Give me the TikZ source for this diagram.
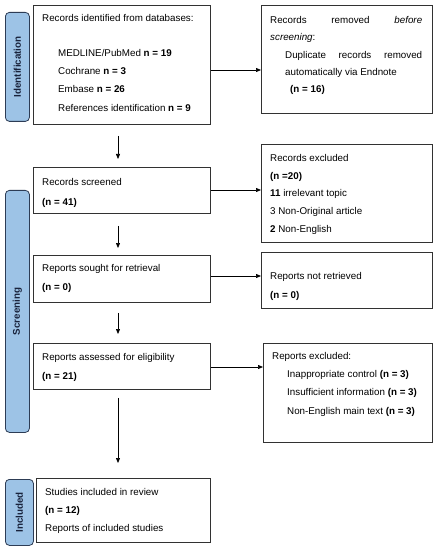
\documentclass[tikz,border=0pt]{standalone}
\usepackage{fontspec}
\setmainfont{Liberation Sans}
\usetikzlibrary{arrows.meta}
\definecolor{boxline}{RGB}{50,50,50}
\definecolor{stageline}{RGB}{45,60,85}
\definecolor{stagefill}{RGB}{157,195,230}
\definecolor{stagetext}{RGB}{25,35,60}
\newcommand\bxtext[3]{\parbox[t]{#1}{\raggedright\fontsize{9.8bp}{#2}\selectfont #3}}
\begin{document}
\begin{tikzpicture}[x=1bp,y=-1bp,
 box/.style={draw=boxline, line width=0.9bp, inner sep=0, anchor=north west},
 stage/.style={draw=stageline, fill=stagefill, rounded corners=4bp, line width=0.8bp, inner sep=0, anchor=north west},
 stagelabel/.style={rotate=90, inner sep=0, font=\fontsize{9.8bp}{12bp}\selectfont\bfseries, text=stagetext},
 txt/.style={anchor=base west, inner sep=0},
 arr/.style={-{Triangle[length=5bp,width=4bp]}, line width=0.7bp}
]
\useasboundingbox (0,0) rectangle (437,550);
\fill[white] (0,0) rectangle (437,550);

% stage bars
\node[stage, minimum width=24bp, minimum height=109bp] (s1) at (5,12) {};
\node[stage, minimum width=24bp, minimum height=242bp] (s2) at (5,190) {};
\node[stage, minimum width=28bp, minimum height=66bp] (s3) at (5,479) {};
\node[stagelabel] (l1) at (s1.center) {Identification};
\node[stagelabel] (l2) at (s2.center) {Screening};
\node[stagelabel] (l3) at (s3.center) {Included};

% main boxes
\node[box, minimum width=177bp, minimum height=119bp] (b1) at (33,5) {};
\node[box, minimum width=171bp, minimum height=108bp] (r1) at (261,5) {};
\node[box, minimum width=177bp, minimum height=46bp] (b2) at (33,167) {};
\node[box, minimum width=171bp, minimum height=98bp] (r2) at (261,144) {};
\node[box, minimum width=177bp, minimum height=47bp] (b3) at (33,255) {};
\node[box, minimum width=171bp, minimum height=56bp] (r3) at (261,252) {};
\node[box, minimum width=177bp, minimum height=46bp] (b4) at (33,343) {};
\node[box, minimum width=169bp, minimum height=99bp] (r4) at (263,343) {};
\node[box, minimum width=174bp, minimum height=64bp] (b5) at (36,478) {};

% texts
\node[txt] (t1) at (42,21.3) {\bxtext{165bp}{18bp}{Records identified from databases:}};
\node[txt] (t1b) at (58,56.3) {\bxtext{150bp}{18.3bp}{MEDLINE/PubMed \textbf{n = 19}\\Cochrane \textbf{n = 3}\\Embase \textbf{n = 26}\\References identification \textbf{n = 9}}};
\node[txt] (tr1) at (270,23.3) {\bxtext{152bp}{17.4bp}{Records\hfill removed\hfill \textit{before}\\\textit{screening}:\\\hspace*{15bp}Duplicate\hfill records\hfill removed\\\hspace*{15bp}automatically via Endnote\\\hspace*{20bp}\textbf{(n = 16)}}};
\node[txt] (t2) at (42,185.3) {\bxtext{160bp}{20bp}{Records screened\\\textbf{(n = 41)}}};
\node[txt] (tr2) at (270,161.3) {\bxtext{155bp}{17.75bp}{Records excluded\\\textbf{(n =20)}\\\textbf{11} irrelevant topic\\3 Non-Original article\\\textbf{2} Non-English}};
\node[txt] (t3) at (42,271.3) {\bxtext{160bp}{19bp}{Reports sought for retrieval\\\textbf{(n = 0)}}};
\node[txt] (tr3) at (270,279.3) {\bxtext{155bp}{19bp}{Reports not retrieved\\\textbf{(n = 0)}}};
\node[txt] (t4) at (42,360.3) {\bxtext{160bp}{19bp}{Reports assessed for eligibility\\\textbf{(n = 21)}}};
\node[txt] (tr4) at (272,359.3) {\bxtext{155bp}{18.3bp}{Reports excluded:\\\hspace*{15bp}Inappropriate control \textbf{(n = 3)}\\\hspace*{15bp}Insufficient information \textbf{(n = 3)}\\\hspace*{15bp}Non-English main text \textbf{(n = 3)}}};
\node[txt] (t5) at (45,495.3) {\bxtext{160bp}{18bp}{Studies included in review\\\textbf{(n = 12)}\\Reports of included studies}};

% arrow guides
\coordinate (ax) at (118,0);
\coordinate (ay1) at (0,70);
\coordinate (ay2) at (0,190);
\coordinate (ay3) at (0,276);
\coordinate (ay4) at (0,367);

% vertical arrows
\draw[arr, shorten <=11bp, shorten >=8bp] (b1.south -| ax) -- (b2.north -| ax);
\draw[arr, shorten <=12bp, shorten >=7bp] (b2.south -| ax) -- (b3.north -| ax);
\draw[arr, shorten <=10bp, shorten >=9bp] (b3.south -| ax) -- (b4.north -| ax);
\draw[arr, shorten <=8bp, shorten >=15bp] (b4.south -| ax) -- (b5.north -| ax);

% horizontal arrows
\draw[arr] (b1.east |- ay1) -- (r1.west |- ay1);
\draw[arr] (b2.east |- ay2) -- (r2.west |- ay2);
\draw[arr] (b3.east |- ay3) -- (r3.west |- ay3);
\draw[arr] (b4.east |- ay4) -- (r4.west |- ay4);
\end{tikzpicture}
\end{document}
